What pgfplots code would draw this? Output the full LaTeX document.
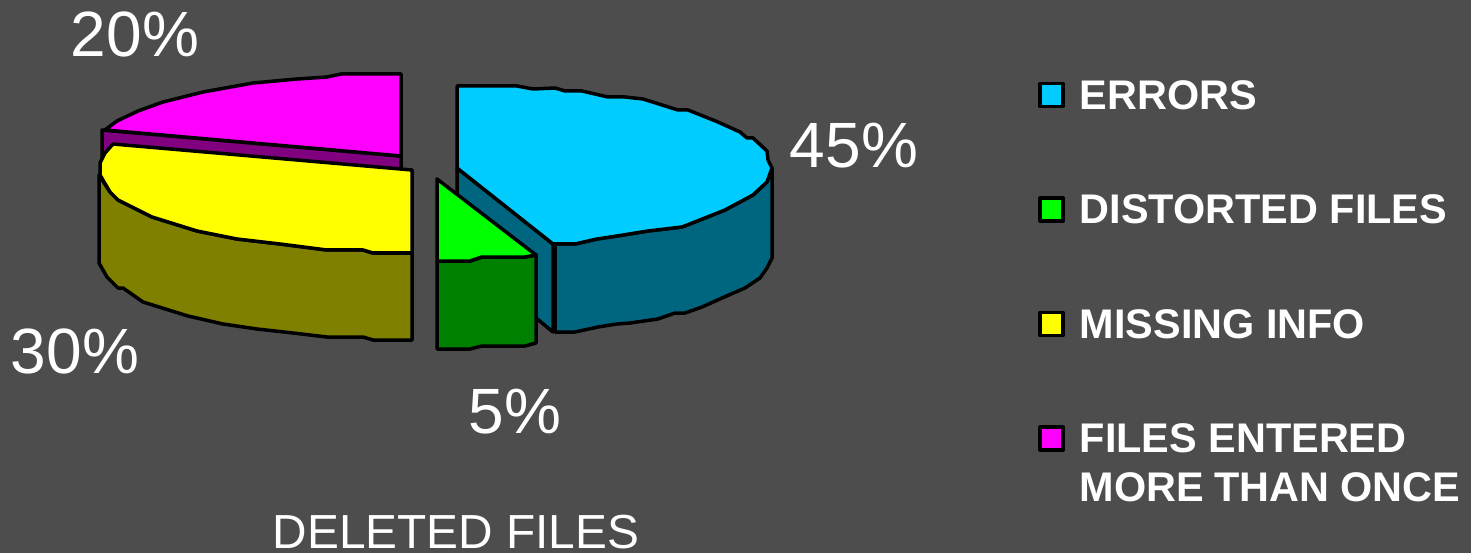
\documentclass[border=0pt]{standalone}
\usepackage{pgfplots}
\pgfplotsset{compat=1.18}
\usepackage{fontspec}
\setmainfont{Liberation Sans}
\definecolor{bgc}{HTML}{4D4D4D}
\definecolor{cblue}{HTML}{00CCFF}
\definecolor{dblue}{HTML}{006680}
\definecolor{cgreen}{HTML}{00FF00}
\definecolor{dgreen}{HTML}{008000}
\definecolor{cyel}{HTML}{FFFF00}
\definecolor{dyel}{HTML}{808000}
\definecolor{cmag}{HTML}{FF00FF}
\definecolor{dmag}{HTML}{800080}
\pgfplotsset{sq/.style={legend image code/.code={\draw[fill=#1,draw=black,line width=3.5pt,line join=round] (1.5pt,-8.5pt) rectangle (24.5pt,14.5pt);\path (0pt,0pt) (41pt,0pt);}}}
\pgfplotsset{slice/.style={draw=black,line width=3.5pt,line join=round,forget plot}}
\begin{document}
\begin{tikzpicture}
\begin{axis}[
  width=1471pt,height=553pt,scale only axis,
  xmin=0,xmax=1471,ymin=0,ymax=553,y dir=reverse,
  axis lines=none,
  axis background/.style={fill=bgc},
  title={DELETED FILES},
  title style={at={(axis description cs:0.31,-0.0036)},anchor=base,text=white,font=\fontsize{47.8}{52}\selectfont,inner sep=0pt,outer sep=0pt,text height=35pt,text depth=0pt},
  legend cell align=left,
  legend style={at={(axis description cs:0.7059,0.8571)},anchor=north west,draw=none,fill=none,text=white,inner sep=0pt,outer sep=0pt,
    font=\fontsize{41.4}{49}\bfseries\selectfont,row sep=76.5pt,
    nodes={inner sep=0pt,outer sep=0pt,text height=30pt,text depth=8pt}},
]
% purple cut face and magenta slice
\addplot[slice,fill=dmag] coordinates {(102,130)(401,156)(401,170)(102,165)} --cycle;
\addplot[slice,fill=cmag] coordinates {(401,74)(341,74)(327,77)(297,79)(253,83)(203,92)(163,102)(138,111)(117,121)(105,130)(401,156)} --cycle;
% olive side and yellow top
\addplot[slice,fill=dyel] coordinates {(99,175)(99,263)(103,270)(107,277)(118,288)(123,288)(143,302)(188,316)(223,324)(257,329)(293,333)(327,337)(363,337)(373,340)(412,340)(412,253)(373,253)(363,250)(327,250)(280,244)(237,239)(197,231)(152,217)(118,200)(110,192)} --cycle;
\addplot[slice,fill=cyel] coordinates {(412,170)(113,144)(105,153)(100,163)(100,175)(110,192)(118,200)(152,217)(197,231)(237,239)(280,244)(327,250)(363,250)(373,253)(412,253)} --cycle;
% blue cut face, outer side and top
\addplot[slice,fill=dblue] coordinates {(457,168)(553,244)(553,332)(457,253)} --cycle;
\addplot[slice,fill=dblue] coordinates {(555,244)(575,244)(597,239)(617,236)(648,231)(682,227)(715,214)(725,210)(753,195)(767,182)(772,168)(772,258)(767,268)(760,278)(745,288)(722,298)(702,307)(685,313)(675,313)(658,319)(630,323)(617,324)(598,327)(575,332)(555,332)} --cycle;
\addplot[slice,fill=cblue] coordinates {(457,86)(517,86)(533,89)(555,88)(565,91)(582,91)(608,97)(625,97)(643,99)(678,110)(688,110)(718,122)(740,132)(747,138)(753,138)(767,151)(768,160)(772,168)(767,182)(753,195)(725,210)(715,214)(682,227)(648,231)(617,236)(597,239)(575,244)(553,244)(457,168)} --cycle;
% green side and top
\addplot[slice,fill=dgreen] coordinates {(437,261)(470,261)(482,257)(525,257)(536,255)(536,343)(525,346)(482,346)(470,349)(437,349)} --cycle;
\addplot[slice,fill=cgreen] coordinates {(437,179)(536,255)(525,257)(482,257)(470,261)(437,261)} --cycle;
% legend
\addlegendimage{sq=cblue}\addlegendentry{ERRORS}
\addlegendimage{sq=cgreen}\addlegendentry{DISTORTED FILES}
\addlegendimage{sq=cyel}\addlegendentry{MISSING INFO}
\addlegendimage{sq=cmag}\addlegendentry{\parbox[t]{380pt}{\fontsize{41.4}{49}\bfseries\selectfont FILES ENTERED\\MORE THAN ONCE}}
% percentage labels
\node[anchor=base,text=white,font=\fontsize{64}{70}\selectfont] at (axis cs:854,168) {45\%};
\node[anchor=base,text=white,font=\fontsize{64}{70}\selectfont] at (axis cs:515,433) {5\%};
\node[anchor=base,text=white,font=\fontsize{64}{70}\selectfont] at (axis cs:75,373) {30\%};
\node[anchor=base,text=white,font=\fontsize{64}{70}\selectfont] at (axis cs:135,57) {20\%};
\end{axis}
\end{tikzpicture}
\end{document}
